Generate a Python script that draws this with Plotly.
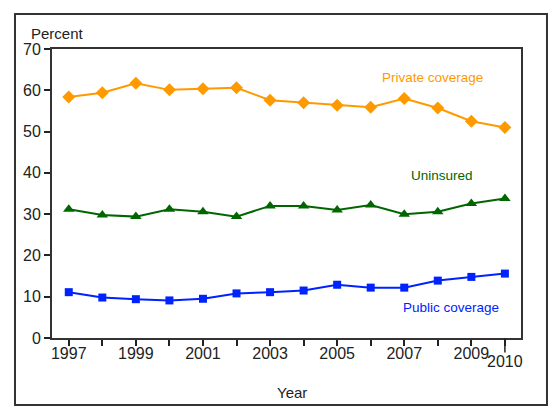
import plotly.graph_objects as go

years = list(range(1997, 2011))
private_coverage = [58.4, 59.4, 61.7, 60.1, 60.4, 60.6, 57.6, 57.0, 56.4, 55.9, 58.0, 55.7, 52.5, 51.0]
uninsured = [31.2, 29.8, 29.4, 31.2, 30.6, 29.4, 32.0, 32.0, 31.0, 32.2, 30.0, 30.6, 32.6, 33.8]
public_coverage = [11.1, 9.8, 9.4, 9.1, 9.5, 10.8, 11.1, 11.5, 12.9, 12.2, 12.2, 13.9, 14.8, 15.6]

x_labels = ["1997", "", "1999", "", "2001", "", "2003", "", "2005", "", "2007", "", "2009", ""]
y_ticks = [0, 10, 20, 30, 40, 50, 60, 70]
last_year = years[-1]

ORANGE = "#FF9900"
GREEN = "#006600"
BLUE = "#0022FF"
DARK = "#222222"
FONT = "Liberation Sans, Arial, sans-serif"

fig = go.Figure()
fig.add_trace(go.Scatter(x=years, y=private_coverage, mode="lines+markers", name="Private coverage",
                         line=dict(color=ORANGE, width=2),
                         marker=dict(symbol="diamond", size=10, color=ORANGE)))
fig.add_trace(go.Scatter(x=years, y=uninsured, mode="lines+markers", name="Uninsured",
                         line=dict(color=GREEN, width=2),
                         marker=dict(symbol="triangle-up", size=10, color=GREEN)))
fig.add_trace(go.Scatter(x=years, y=public_coverage, mode="lines+markers", name="Public coverage",
                         line=dict(color=BLUE, width=2),
                         marker=dict(symbol="square", size=8, color=BLUE)))

# page body adds an 8px offset, so margins are shifted to compensate
fig.update_layout(
    width=560,
    height=420,
    margin=dict(l=44, r=47, t=41, b=90),
    paper_bgcolor="white",
    plot_bgcolor="white",
    showlegend=False,
    font=dict(family=FONT, color=DARK, size=16),
    xaxis=dict(
        range=[1996.5, 2010.48],
        tickvals=years,
        ticktext=x_labels,
        ticks="outside",
        ticklen=6,
        tickwidth=1.5,
        tickcolor=DARK,
        ticklabelstandoff=-6,
        showline=True,
        linecolor="#333333",
        linewidth=2,
        mirror=True,
        showgrid=False,
        zeroline=False,
        tickangle=0,
    ),
    yaxis=dict(
        range=[0, 70],
        tickvals=y_ticks,
        ticks="outside",
        ticklen=6,
        tickwidth=1.5,
        tickcolor=DARK,
        showline=True,
        linecolor="#333333",
        linewidth=2,
        mirror=True,
        showgrid=False,
        zeroline=False,
    ),
    shapes=[
        dict(type="rect", xref="paper", yref="paper", x0=-0.0789, x1=1.0554, y0=-0.2318, y1=1.121,
             line=dict(color="#333333", width=2), fillcolor="rgba(0,0,0,0)", layer="below"),
        dict(type="line", xref="x", yref="paper", x0=last_year, x1=last_year, y0=0, y1=-0.05,
             line=dict(color=DARK, width=1.5)),
    ],
    annotations=[
        dict(text="Percent", xref="paper", yref="paper", x=-0.049, y=1.052, xanchor="left", yanchor="middle",
             showarrow=False, font=dict(size=15, color=DARK)),
        dict(text=str(last_year), xref="x", yref="paper", x=last_year, y=-0.083, xanchor="center",
             yanchor="middle", showarrow=False, font=dict(size=16, color=DARK)),
        dict(text="Year", xref="paper", yref="paper", x=0.512, y=-0.19, xanchor="center", yanchor="middle",
             showarrow=False, font=dict(size=15, color=DARK)),
        dict(text="Private coverage", xref="paper", yref="paper", x=0.812, y=0.903, xanchor="center",
             yanchor="middle", showarrow=False, font=dict(size=13.5, color=ORANGE)),
        dict(text="Uninsured", xref="paper", yref="paper", x=0.831, y=0.561, xanchor="center",
             yanchor="middle", showarrow=False, font=dict(size=13.5, color=GREEN)),
        dict(text="Public coverage", xref="paper", yref="paper", x=0.851, y=0.104, xanchor="center",
             yanchor="middle", showarrow=False, font=dict(size=13.5, color=BLUE)),
    ],
)

fig.write_html("out.html")
